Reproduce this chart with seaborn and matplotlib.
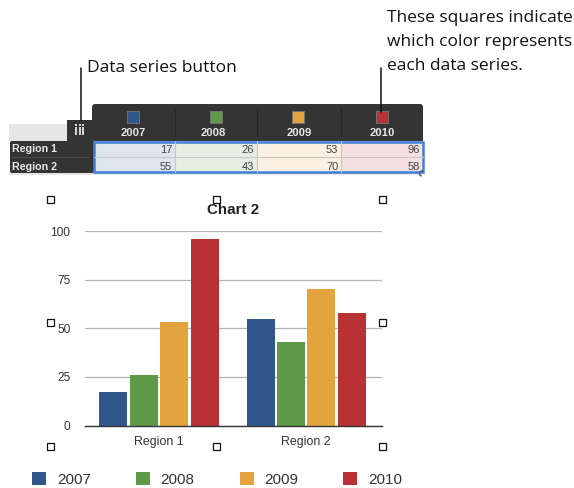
import matplotlib
matplotlib.use("Agg")
import matplotlib.pyplot as plt
from matplotlib.patches import Rectangle, FancyBboxPatch, Arc
import pandas as pd
import seaborn as sns

years = ["2007", "2008", "2009", "2010"]
regions = ["Region 1", "Region 2"]
values_2007 = [17, 55]
values_2008 = [26, 43]
values_2009 = [53, 70]
values_2010 = [96, 58]
colors = ["#30568c", "#5f994a", "#e5a33d", "#b93135"]
tints = ["#dfe5ef", "#e6ede1", "#fcf0e2", "#f5e0e0"]
series = [values_2007, values_2008, values_2009, values_2010]
yticks = [0, 25, 50, 75, 100]

sns.set_theme(style="white")
plt.rcParams["font.family"] = ["Open Sans", "DejaVu Sans"]
helv = ["Liberation Sans", "DejaVu Sans"]

W, H = 574, 488
fig = plt.figure(figsize=(W / 100, H / 100), dpi=100, facecolor="white")

# chart
x0, x1, y0, y100 = 85, 382, 425.5, 231
ax = fig.add_axes([x0 / W, 1 - y0 / H, (x1 - x0) / W, (y0 - y100) / H])
df = pd.DataFrame(
    [(r, y, s[i]) for y, s in zip(years, series) for i, r in enumerate(regions)],
    columns=["region", "year", "value"],
)
sns.barplot(data=df, x="region", y="value", hue="year", palette=colors, order=regions,
            hue_order=years, width=0.825, gap=0.08, saturation=1, errorbar=None, ax=ax, zorder=3,
            linewidth=0)
ax.set_xlim(-0.502, 1.514)
ax.set_ylim(0, 100)
ax.set_yticks(yticks)
ax.set_xlabel("")
ax.set_ylabel("")
ax.yaxis.grid(True, color="#b4b4b4", lw=0.9)
ax.set_axisbelow(True)
for side in ["top", "left", "right"]:
    ax.spines[side].set_visible(False)
ax.spines["bottom"].set_color("#333333")
ax.spines["bottom"].set_linewidth(1)
ax.spines["bottom"].set_zorder(4)
ax.tick_params(axis="y", length=0, pad=10.5, labelsize=8.6, colors="#333333")
ax.tick_params(axis="x", length=0, pad=7.5, labelsize=8.9, colors="#333333")
for lab in ax.get_xticklabels() + ax.get_yticklabels():
    lab.set_family(helv)
ax.text(0.5, 1.108, "Chart 2", transform=ax.transAxes, ha="center", va="center",
        fontsize=10.9, fontweight="bold", family=helv, color="#222222")

handles, labels = ax.get_legend_handles_labels()
ax.legend_.remove()
leg = fig.legend(handles, labels, loc="lower left", bbox_to_anchor=(32.3 / W, 1.5 / H), ncol=4, frameon=False,
                 prop={"family": helv, "size": 11}, handlelength=0.92, handleheight=0.92, handletextpad=0.69,
                 columnspacing=2.95, labelcolor="#333333", borderpad=0, borderaxespad=0)

# table & callouts, in pixel coordinates
ov = fig.add_axes([0, 0, 1, 1], facecolor="none", zorder=5)
ov.set_xlim(0, W)
ov.set_ylim(H, 0)
ov.axis("off")
dark = "#343434"
ov.add_patch(Rectangle((9, 124), 60, 17, fc="#e6e6e6", ec="none"))
ov.add_patch(Rectangle((9, 172), 414, 3, fc="#e4e4e4", ec="none"))
ov.add_patch(FancyBboxPatch((92 + 2, 104 + 2), 327, 40, boxstyle="round,pad=2,rounding_size=3", fc=dark, ec="none"))
ov.add_patch(Rectangle((67, 120), 26, 22, fc=dark, ec="none"))
ov.add_patch(FancyBboxPatch((11, 142), 82, 30, boxstyle="round,pad=1,rounding_size=2", fc=dark, ec="none"))
ov.plot([12, 88], [157, 157], color="#4a4a4a", lw=0.8)
for x in [76, 79.5, 83]:
    ov.plot([x, x], [124, 125.5], color="#e8e8e8", lw=1.3, solid_capstyle="butt")
    ov.plot([x, x], [127, 135], color="#e8e8e8", lw=1.3, solid_capstyle="butt")

col_edges = [94, 175, 257, 341, 423]
swatch_x = [132.5, 216, 298, 382]
label_x = [133.5, 213, 299, 382]
for j, yr in enumerate(years):
    ov.add_patch(Rectangle((col_edges[j], 141), col_edges[j + 1] - col_edges[j], 31, fc=tints[j], ec="none"))
    ov.add_patch(Rectangle((swatch_x[j] - 6, 111), 12, 11.5, fc=colors[j], ec="#777777", lw=0.6))
    ov.text(label_x[j], 133.5, yr, color="#e8e8e8", fontsize=8.1, fontweight="bold", ha="center", va="center",
            family=helv)
    if j:
        ov.plot([col_edges[j]] * 2, [109, 136], color="#262626", lw=0.9)
        ov.plot([col_edges[j]] * 2, [141, 172], color="#c8c8c8", lw=0.8)
    for i in range(2):
        ov.text(col_edges[j + 1] - 2.7, [150, 167][i], str(series[j][i]), color="#444444", fontsize=8,
                ha="right", va="center", family=helv)
ov.plot([94, 423], [157, 157], color="#c8c8c8", lw=0.8)
ov.add_patch(Rectangle((93.5, 141.5), 329, 30, fc="none", ec="#3f7fdc", lw=1.8))
ov.add_patch(Arc((422, 173.5), 5, 5, theta1=90, theta2=300, color="#555555", lw=0.9))
for i, r in enumerate(regions):
    ov.text(12, [149.5, 167][i], r, color="#e8e8e8", fontsize=7.7, fontweight="bold", ha="left", va="center",
            family=helv)

ov.plot([81, 81], [68, 120], color="#111111", lw=1.1)
ov.plot([381, 381], [68, 112], color="#111111", lw=1.1)
ov.text(87, 68, "Data series button", fontsize=12.5, ha="left", va="center", color="#111111")
for y, t in zip([18, 42, 66], ["These squares indicate", "which color represents", "each data series."]):
    ov.text(387, y, t, fontsize=12.5, ha="left", va="center", color="#111111")

# selection handles
for hx, hy in [(50, 199), (216, 199), (382, 199), (50, 322), (382, 322), (50, 446), (216, 446), (382, 446)]:
    ov.add_patch(Rectangle((hx - 3.5, hy - 3.5), 7, 7, fc="white", ec="#111111", lw=0.9))

fig.savefig("out.png", dpi=100)
